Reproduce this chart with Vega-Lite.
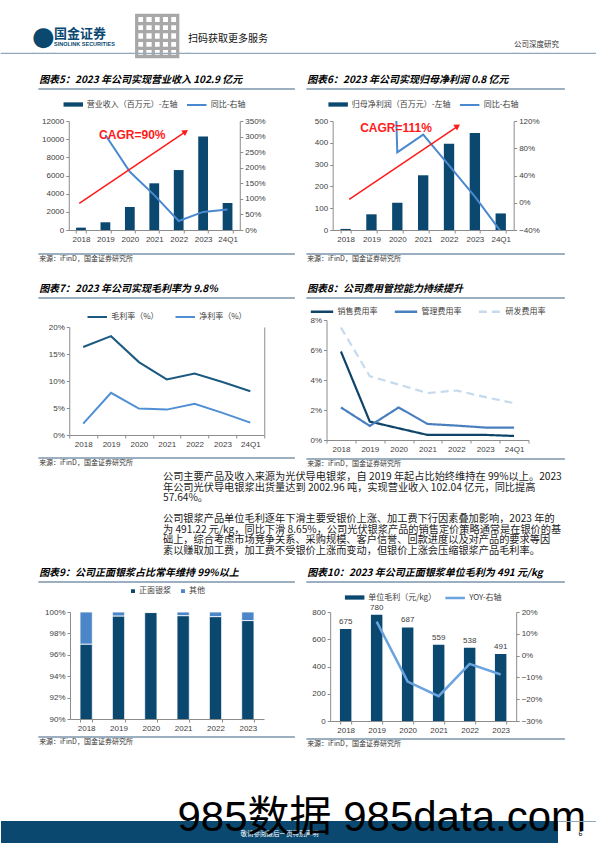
{
"$schema": "https://vega.github.io/schema/vega-lite/v6.json",
"padding": 0,
"background": "white",
"spacing": 0,
"resolve": {"scale": {"color": "independent", "strokeDash": "independent"}, "legend": {"color": "independent", "strokeDash": "independent"}},
"config": {
  "font": "Liberation Sans, Noto Sans CJK SC, sans-serif",
  "view": {"stroke": null},
  "axis": {"labelFontSize": 8, "labelColor": "#404040", "domainColor": "#8c8c8c", "tickColor": "#8c8c8c", "tickSize": 3, "grid": false, "labelPadding": 2, "labelFont": "Liberation Sans"},
  "axisX": {"labelAngle": 0, "tickBand": "extent", "labelPadding": 2},
  "legend": {"orient": "top", "direction": "horizontal", "labelFontSize": 8, "labelColor": "#404040", "labelFont": "Noto Sans CJK SC", "padding": 0, "offset": 12, "columnPadding": 12, "labelOffset": 3, "layout": {"top": {"anchor": "middle"}}},
  "title": {"font": "Noto Sans CJK SC", "fontSize": 10, "fontWeight": "bold", "fontStyle": "italic", "color": "#000000", "anchor": "start", "offset": 4}
},
"vconcat": [
  {"width": 1, "height": 4, "data": {"values": []}, "mark": "point"},
  {
    "spacing": 0, "bounds": "flush",
    "hconcat": [
      {"width": 31, "height": 0.01, "data": {"values": []}, "mark": "point", "view": {"stroke": "#8fa8bd", "strokeWidth": 1.2}},
      {"width": 22, "height": 0.01, "data": {"values": []}, "mark": "point", "view": {"stroke": "#8fa8bd", "strokeWidth": 1.2},
       "title": {"text": "●", "font": "DejaVu Sans", "fontSize": 26, "fontStyle": "normal", "fontWeight": "normal", "color": "#0a4870", "offset": 3}},
      {"width": 76, "height": 0.01, "data": {"values": []}, "mark": "point", "view": {"stroke": "#8fa8bd", "strokeWidth": 1.2},
       "title": {"text": "国金证券", "subtitle": "SINOLINK SECURITIES", "fontSize": 13, "fontStyle": "normal", "fontWeight": "bold", "color": "#0a4870", "subtitleFont": "Liberation Sans", "subtitleFontSize": 5.5, "subtitleColor": "#0a4870", "subtitleFontWeight": "bold", "subtitlePadding": 1, "offset": 6}},
      {"width": 58, "height": 0.01, "data": {"values": []}, "mark": "point", "view": {"stroke": "#8fa8bd", "strokeWidth": 1.2},
       "title": {"text": "▦", "font": "DejaVu Sans", "fontSize": 58, "fontStyle": "normal", "fontWeight": "normal", "color": "#a8a8a8", "offset": -10}},
      {"width": 326, "height": 0.01, "data": {"values": []}, "mark": "point", "view": {"stroke": "#8fa8bd", "strokeWidth": 1.2},
       "title": {"text": "扫码获取更多服务", "fontSize": 10, "fontStyle": "normal", "fontWeight": "normal", "color": "#111111", "offset": 9}},
      {"width": 83, "height": 0.01, "data": {"values": []}, "mark": "point", "view": {"stroke": "#8fa8bd", "strokeWidth": 1.2},
       "title": {"text": "公司深度研究", "fontSize": 7.5, "fontStyle": "normal", "fontWeight": "normal", "color": "#333333", "offset": 5}}
    ]
  },
  {"width": 1, "height": 10, "data": {"values": []}, "mark": "point"},
  {
    "spacing": 11,
    "resolve": {"scale": {"color": "independent", "strokeDash": "independent"}, "legend": {"color": "independent", "strokeDash": "independent"}},
    "hconcat": [
      {"width": 26, "height": 0.01, "data": {"values": []}, "mark": "point"},
      {
        "spacing": 4, "center": true,
        "resolve": {"scale": {"color": "independent"}, "legend": {"color": "independent"}},
        "vconcat": [
          {"width": 255, "height": 0.01, "data": {"values": []}, "mark": "point", "view": {"stroke": "#7a94ab", "strokeWidth": 1.5},
           "title": {"text": "图表5：2023 年公司实现营业收入 102.9 亿元"}},
          {
            "width": 171, "height": 109,
            "layer": [
              {
                "data": {"values": [
                  {"year": "2018", "rev": 260, "yoy": null},
                  {"year": "2019", "rev": 850, "yoy": 3.05},
                  {"year": "2020", "rev": 2530, "yoy": 1.87},
                  {"year": "2021", "rev": 5140, "yoy": 1.12},
                  {"year": "2022", "rev": 6600, "yoy": 0.29},
                  {"year": "2023", "rev": 10290, "yoy": 0.58},
                  {"year": "24Q1", "rev": 2970, "yoy": 0.66}
                ]},
                "layer": [
                  {"mark": {"type": "bar"},
                   "encoding": {
                     "x": {"field": "year", "type": "ordinal", "sort": null, "scale": {"paddingInner": 0.6, "paddingOuter": 0.3}, "axis": {"title": null}},
                     "y": {"field": "rev", "type": "quantitative", "scale": {"domain": [0, 12000]}, "axis": {"title": null, "values": [0, 2000, 4000, 6000, 8000, 10000, 12000], "format": "d"}},
                     "color": {"datum": "营业收入（百万元）-左轴", "scale": {"range": ["#0a4870"]}, "legend": {"title": null, "symbolType": "M-1,-0.22H1V0.22H-1Z", "symbolSize": 380}}
                   }},
                  {"mark": {"type": "line", "strokeWidth": 2},
                   "encoding": {
                     "x": {"field": "year", "type": "ordinal", "sort": null},
                     "y": {"field": "yoy", "type": "quantitative", "scale": {"domain": [0, 3.5]}, "axis": {"title": null, "orient": "right", "format": ".0%", "values": [0, 0.5, 1, 1.5, 2, 2.5, 3, 3.5]}},
                     "color": {"datum": "同比-右轴", "scale": {"range": ["#4a89cf"]}, "legend": {"title": null, "symbolType": "stroke", "symbolSize": 380, "symbolStrokeWidth": 2}}
                   }}
                ],
                "resolve": {"scale": {"y": "independent", "color": "independent"}}
              },
              {
                "layer": [
                  {"data": {"values": [{"x": 0.43, "y": 2940}, {"x": 4.74, "y": 10760}]},
                   "mark": {"type": "line", "color": "#ff1a1a", "strokeWidth": 1.5},
                   "encoding": {
                     "x": {"field": "x", "type": "quantitative", "scale": {"domain": [0, 7]}, "axis": null},
                     "y": {"field": "y", "type": "quantitative", "scale": {"domain": [0, 12000]}, "axis": null}
                   }},
                  {"data": {"values": [{"x": 4.78, "y": 10826}]},
                   "mark": {"type": "point", "shape": "triangle-up", "angle": 56, "size": 45, "filled": true, "color": "#ff1a1a", "opacity": 1},
                   "encoding": {
                     "x": {"field": "x", "type": "quantitative"},
                     "y": {"field": "y", "type": "quantitative"}
                   }},
                  {"data": {"values": [{"x": 2.6, "y": 10460, "label": "CAGR=90%"}]},
                   "mark": {"type": "text", "color": "#ff1a1a", "fontSize": 12, "fontWeight": "bold", "font": "Liberation Sans"},
                   "encoding": {
                     "x": {"field": "x", "type": "quantitative"},
                     "y": {"field": "y", "type": "quantitative"},
                     "text": {"field": "label"}
                   }}
                ]
              }
            ],
            "resolve": {"scale": {"x": "independent", "y": "independent"}}
          },
          {"width": 1, "height": 2, "data": {"values": []}, "mark": "point"},
          {"width": 255, "height": 0.01, "data": {"values": []}, "mark": "point", "view": {"stroke": "#7a94ab", "strokeWidth": 1.5},
           "title": {"text": "来源：iFinD，国金证券研究所", "orient": "bottom", "fontSize": 7, "fontWeight": "normal", "fontStyle": "normal", "color": "#333333", "offset": 1}}
        ]
      },
      {
        "spacing": 4, "center": true,
        "resolve": {"scale": {"color": "independent"}, "legend": {"color": "independent"}},
        "vconcat": [
          {"width": 257, "height": 0.01, "data": {"values": []}, "mark": "point", "view": {"stroke": "#7a94ab", "strokeWidth": 1.5},
           "title": {"text": "图表6：2023 年公司实现归母净利润 0.8 亿元"}},
          {
            "width": 181, "height": 109,
            "layer": [
              {
                "data": {"values": [
                  {"year": "2018", "np": 5, "yoy": null},
                  {"year": "2019", "np": 72, "yoy": 13.4},
                  {"year": "2020", "np": 125, "yoy": 0.74},
                  {"year": "2021", "np": 251, "yoy": 1.0},
                  {"year": "2022", "np": 396, "yoy": 0.55},
                  {"year": "2023", "np": 445, "yoy": 0.09},
                  {"year": "24Q1", "np": 76, "yoy": -0.42}
                ]},
                "layer": [
                  {"mark": {"type": "bar"},
                   "encoding": {
                     "x": {"field": "year", "type": "ordinal", "sort": null, "scale": {"paddingInner": 0.6, "paddingOuter": 0.3}, "axis": {"title": null}},
                     "y": {"field": "np", "type": "quantitative", "scale": {"domain": [0, 500]}, "axis": {"title": null, "values": [0, 100, 200, 300, 400, 500]}},
                     "color": {"datum": "归母净利润（百万元）-左轴", "scale": {"range": ["#0a4870"]}, "legend": {"title": null, "symbolType": "M-1,-0.22H1V0.22H-1Z", "symbolSize": 380}}
                   }},
                  {"mark": {"type": "line", "strokeWidth": 2, "clip": true},
                   "encoding": {
                     "x": {"field": "year", "type": "ordinal", "sort": null},
                     "y": {"field": "yoy", "type": "quantitative", "scale": {"domain": [-0.4, 1.2]}, "axis": {"title": null, "orient": "right", "format": ".0%", "values": [-0.4, 0, 0.4, 0.8, 1.2]}},
                     "color": {"datum": "同比-右轴", "scale": {"range": ["#4a89cf"]}, "legend": {"title": null, "symbolType": "stroke", "symbolSize": 380, "symbolStrokeWidth": 2}}
                   }}
                ],
                "resolve": {"scale": {"y": "independent", "color": "independent"}}
              },
              {
                "layer": [
                  {"data": {"values": [{"x": 0.64, "y": 141}, {"x": 4.79, "y": 472}]},
                   "mark": {"type": "line", "color": "#ff1a1a", "strokeWidth": 1.5},
                   "encoding": {
                     "x": {"field": "x", "type": "quantitative", "scale": {"domain": [0, 7]}, "axis": null},
                     "y": {"field": "y", "type": "quantitative", "scale": {"domain": [0, 500]}, "axis": null}
                   }},
                  {"data": {"values": [{"x": 4.83, "y": 477}]},
                   "mark": {"type": "point", "shape": "triangle-up", "angle": 56, "size": 45, "filled": true, "color": "#ff1a1a", "opacity": 1},
                   "encoding": {
                     "x": {"field": "x", "type": "quantitative"},
                     "y": {"field": "y", "type": "quantitative"}
                   }},
                  {"data": {"values": [{"x": 2.45, "y": 470, "label": "CAGR=111%"}]},
                   "mark": {"type": "text", "color": "#ff1a1a", "fontSize": 12, "fontWeight": "bold", "font": "Liberation Sans"},
                   "encoding": {
                     "x": {"field": "x", "type": "quantitative"},
                     "y": {"field": "y", "type": "quantitative"},
                     "text": {"field": "label"}
                   }}
                ]
              }
            ],
            "resolve": {"scale": {"x": "independent", "y": "independent"}}
          },
          {"width": 1, "height": 2, "data": {"values": []}, "mark": "point"},
          {"width": 257, "height": 0.01, "data": {"values": []}, "mark": "point", "view": {"stroke": "#7a94ab", "strokeWidth": 1.5},
           "title": {"text": "来源：iFinD，国金证券研究所", "orient": "bottom", "fontSize": 7, "fontWeight": "normal", "fontStyle": "normal", "color": "#333333", "offset": 1}}
        ]
      }
    ]
  },
  {"width": 1, "height": 20, "data": {"values": []}, "mark": "point"},
  {
    "spacing": 11,
    "resolve": {"scale": {"color": "independent", "strokeDash": "independent"}, "legend": {"color": "independent", "strokeDash": "independent"}},
    "hconcat": [
      {"width": 26, "height": 0.01, "data": {"values": []}, "mark": "point"},
      {
        "spacing": 3, "center": true,
        "resolve": {"scale": {"color": "independent"}, "legend": {"color": "independent"}},
        "vconcat": [
          {"width": 255, "height": 0.01, "data": {"values": []}, "mark": "point", "view": {"stroke": "#7a94ab", "strokeWidth": 1.5},
           "title": {"text": "图表7：2023 年公司实现毛利率为 9.8%"}},
          {"width": 1, "height": 0.01, "data": {"values": []}, "mark": "point"},
          {
            "width": 195, "height": 108,
            "data": {"values": [
              {"year": "2018", "series": "毛利率（%）", "v": 0.163},
              {"year": "2019", "series": "毛利率（%）", "v": 0.183},
              {"year": "2020", "series": "毛利率（%）", "v": 0.135},
              {"year": "2021", "series": "毛利率（%）", "v": 0.103},
              {"year": "2022", "series": "毛利率（%）", "v": 0.114},
              {"year": "2023", "series": "毛利率（%）", "v": 0.098},
              {"year": "24Q1", "series": "毛利率（%）", "v": 0.081},
              {"year": "2018", "series": "净利率（%）", "v": 0.021},
              {"year": "2019", "series": "净利率（%）", "v": 0.078},
              {"year": "2020", "series": "净利率（%）", "v": 0.049},
              {"year": "2021", "series": "净利率（%）", "v": 0.047},
              {"year": "2022", "series": "净利率（%）", "v": 0.058},
              {"year": "2023", "series": "净利率（%）", "v": 0.041},
              {"year": "24Q1", "series": "净利率（%）", "v": 0.023}
            ]},
            "layer": [
              {"mark": {"type": "line", "strokeWidth": 2},
               "encoding": {
                 "x": {"field": "year", "type": "ordinal", "sort": null, "scale": {"type": "band", "paddingInner": 0, "paddingOuter": 0}, "axis": {"title": null}},
                 "y": {"field": "v", "type": "quantitative", "scale": {"domain": [0, 0.2]}, "axis": {"title": null, "format": ".0%", "values": [0, 0.05, 0.1, 0.15, 0.2]}},
                 "color": {"field": "series", "type": "nominal", "scale": {"domain": ["毛利率（%）", "净利率（%）"], "range": ["#1b5a80", "#4f8fd3"]}, "legend": {"title": null, "symbolType": "stroke", "symbolSize": 380, "symbolStrokeWidth": 2, "offset": 6}}
               }},
              {"mark": {"type": "line", "opacity": 0},
               "encoding": {
                 "x": {"field": "year", "type": "ordinal", "sort": null},
                 "y": {"field": "v", "type": "quantitative", "scale": {"domain": [0, 0.2]}, "axis": {"title": null, "orient": "right", "labels": false, "ticks": false}}
               }}
            ],
            "resolve": {"scale": {"y": "independent"}}
          },
          {"width": 1, "height": 3, "data": {"values": []}, "mark": "point"},
          {"width": 255, "height": 0.01, "data": {"values": []}, "mark": "point", "view": {"stroke": "#7a94ab", "strokeWidth": 1.5},
           "title": {"text": "来源：iFinD，国金证券研究所", "orient": "bottom", "fontSize": 7, "fontWeight": "normal", "fontStyle": "normal", "color": "#333333", "offset": 1}}
        ]
      },
      {
        "spacing": 0, "center": true,
        "resolve": {"scale": {"color": "independent", "strokeDash": "independent"}, "legend": {"color": "independent", "strokeDash": "independent"}},
        "vconcat": [
          {"width": 257, "height": 0.01, "data": {"values": []}, "mark": "point", "view": {"stroke": "#7a94ab", "strokeWidth": 1.5},
           "title": {"text": "图表8：公司费用管控能力持续提升"}},
          {
            "width": 202, "height": 120,
            "data": {"values": [
              {"year": "2018", "series": "销售费用率", "v": 0.059},
              {"year": "2019", "series": "销售费用率", "v": 0.0123},
              {"year": "2020", "series": "销售费用率", "v": 0.0078},
              {"year": "2021", "series": "销售费用率", "v": 0.0034},
              {"year": "2022", "series": "销售费用率", "v": 0.0034},
              {"year": "2023", "series": "销售费用率", "v": 0.0034},
              {"year": "24Q1", "series": "销售费用率", "v": 0.0027},
              {"year": "2018", "series": "管理费用率", "v": 0.0217},
              {"year": "2019", "series": "管理费用率", "v": 0.0094},
              {"year": "2020", "series": "管理费用率", "v": 0.0217},
              {"year": "2021", "series": "管理费用率", "v": 0.0107},
              {"year": "2022", "series": "管理费用率", "v": 0.0096},
              {"year": "2023", "series": "管理费用率", "v": 0.0083},
              {"year": "24Q1", "series": "管理费用率", "v": 0.0083},
              {"year": "2018", "series": "研发费用率", "v": 0.075},
              {"year": "2019", "series": "研发费用率", "v": 0.0425},
              {"year": "2020", "series": "研发费用率", "v": 0.037},
              {"year": "2021", "series": "研发费用率", "v": 0.0313},
              {"year": "2022", "series": "研发费用率", "v": 0.033},
              {"year": "2023", "series": "研发费用率", "v": 0.0286},
              {"year": "24Q1", "series": "研发费用率", "v": 0.0246}
            ]},
            "mark": {"type": "line", "strokeWidth": 2.2},
            "encoding": {
              "x": {"field": "year", "type": "ordinal", "sort": null, "scale": {"type": "band", "paddingInner": 0, "paddingOuter": 0}, "axis": {"title": null}},
              "y": {"field": "v", "type": "quantitative", "scale": {"domain": [0, 0.08]}, "axis": {"title": null, "format": ".0%", "values": [0, 0.02, 0.04, 0.06, 0.08]}},
              "color": {"field": "series", "type": "nominal", "scale": {"domain": ["销售费用率", "管理费用率", "研发费用率"], "range": ["#0d4468", "#4a7fbf", "#c6daee"]}, "legend": {"title": null, "symbolType": "stroke", "symbolSize": 500, "symbolStrokeWidth": 2.5, "offset": 3}},
              "strokeDash": {"field": "series", "type": "nominal", "scale": {"domain": ["销售费用率", "管理费用率", "研发费用率"], "range": [[1, 0], [1, 0], [8, 5]]}, "legend": {"title": null, "symbolType": "stroke", "symbolSize": 500, "symbolStrokeWidth": 2.5, "offset": 3}}
            }
          },
          {"width": 1, "height": 5, "data": {"values": []}, "mark": "point"},
          {"width": 257, "height": 0.01, "data": {"values": []}, "mark": "point", "view": {"stroke": "#7a94ab", "strokeWidth": 1.5},
           "title": {"text": "来源：iFinD，国金证券研究所", "orient": "bottom", "fontSize": 7, "fontWeight": "normal", "fontStyle": "normal", "color": "#333333", "offset": 1}}
        ]
      }
    ]
  },
  {"width": 1, "height": 4, "data": {"values": []}, "mark": "point"},
  {
    "spacing": 0,
    "hconcat": [
      {"width": 162, "height": 0.01, "data": {"values": []}, "mark": "point"},
      {"width": 404, "height": 0.01, "data": {"values": []}, "mark": "point",
       "title": {"text": [
         "公司主要产品及收入来源为光伏导电银浆，自 2019 年起占比始终维持在 99%以上。2023",
         "年公司光伏导电银浆出货量达到 2002.96 吨，实现营业收入 102.04 亿元，同比提高",
         "57.64%。",
         "\u200b",
         "公司银浆产品单位毛利逐年下滑主要受银价上涨、加工费下行因素叠加影响，2023 年的",
         "为 491.22 元/kg，同比下滑 8.65%，公司光伏银浆产品的销售定价策略通常是在银价的基",
         "础上，综合考虑市场竞争关系、采购规模、客户信誉、回款进度以及对产品的要求等因",
         "素以赚取加工费，加工费不受银价上涨而变动，但银价上涨会压缩银浆产品毛利率。"
       ], "fontSize": 10.2, "lineHeight": 10.5, "fontWeight": "normal", "fontStyle": "normal", "color": "#1a1a1a", "offset": 0}}
    ]
  },
  {"width": 1, "height": 10, "data": {"values": []}, "mark": "point"},
  {
    "spacing": 11,
    "resolve": {"scale": {"color": "independent", "strokeDash": "independent"}, "legend": {"color": "independent", "strokeDash": "independent"}},
    "hconcat": [
      {"width": 26, "height": 0.01, "data": {"values": []}, "mark": "point"},
      {
        "spacing": 4, "center": true,
        "resolve": {"scale": {"color": "independent"}, "legend": {"color": "independent"}},
        "vconcat": [
          {"width": 255, "height": 0.01, "data": {"values": []}, "mark": "point", "view": {"stroke": "#7a94ab", "strokeWidth": 1.5},
           "title": {"text": "图表9：公司正面银浆占比常年维持 99%以上"}},
          {
            "width": 194, "height": 107,
            "data": {"values": [
              {"year": "2018", "type": "正面银浆", "share": 0.970},
              {"year": "2018", "type": "其他", "share": 0.030},
              {"year": "2019", "type": "正面银浆", "share": 0.9963},
              {"year": "2019", "type": "其他", "share": 0.0037},
              {"year": "2020", "type": "正面银浆", "share": 0.9995},
              {"year": "2020", "type": "其他", "share": 0.0005},
              {"year": "2021", "type": "正面银浆", "share": 0.9966},
              {"year": "2021", "type": "其他", "share": 0.0034},
              {"year": "2022", "type": "正面银浆", "share": 0.9957},
              {"year": "2022", "type": "其他", "share": 0.0043},
              {"year": "2023", "type": "正面银浆", "share": 0.9920},
              {"year": "2023", "type": "其他", "share": 0.0080}
            ]},
            "mark": {"type": "bar", "clip": true, "stroke": "white", "strokeWidth": 0.8},
            "encoding": {
              "x": {"field": "year", "type": "ordinal", "sort": null, "scale": {"paddingInner": 0.62, "paddingOuter": 0.31}, "axis": {"title": null}},
              "y": {"field": "share", "type": "quantitative", "stack": true, "scale": {"domain": [0.9, 1]}, "axis": {"title": null, "format": ".0%", "values": [0.9, 0.92, 0.94, 0.96, 0.98, 1]}},
              "color": {"field": "type", "type": "nominal", "scale": {"domain": ["正面银浆", "其他"], "range": ["#0a4870", "#4a86c8"]}, "legend": {"title": null, "symbolType": "square", "symbolSize": 30, "columnPadding": 6, "labelOffset": 2, "offset": 15}},
              "order": {"field": "type", "sort": "descending"}
            }
          },
          {"width": 255, "height": 0.01, "data": {"values": []}, "mark": "point", "view": {"stroke": "#7a94ab", "strokeWidth": 1.5},
           "title": {"text": "来源：iFinD，国金证券研究所", "orient": "bottom", "fontSize": 7, "fontWeight": "normal", "fontStyle": "normal", "color": "#333333", "offset": 1}}
        ]
      },
      {
        "spacing": 4, "center": true,
        "resolve": {"scale": {"color": "independent"}, "legend": {"color": "independent"}},
        "vconcat": [
          {"width": 257, "height": 0.01, "data": {"values": []}, "mark": "point", "view": {"stroke": "#7a94ab", "strokeWidth": 1.5},
           "title": {"text": "图表10：2023 年公司正面银浆单位毛利为 491 元/kg"}},
          {
            "width": 186, "height": 109,
            "data": {"values": [
              {"year": "2018", "gp": 675, "yoy": null},
              {"year": "2019", "gp": 780, "yoy": 0.156},
              {"year": "2020", "gp": 687, "yoy": -0.119},
              {"year": "2021", "gp": 559, "yoy": -0.186},
              {"year": "2022", "gp": 538, "yoy": -0.038},
              {"year": "2023", "gp": 491, "yoy": -0.0865}
            ]},
            "layer": [
              {"mark": {"type": "bar"},
               "encoding": {
                 "x": {"field": "year", "type": "ordinal", "sort": null, "scale": {"paddingInner": 0.63, "paddingOuter": 0.315}, "axis": {"title": null}},
                 "y": {"field": "gp", "type": "quantitative", "scale": {"domain": [0, 800]}, "axis": {"title": null, "values": [0, 200, 400, 600, 800]}},
                 "color": {"datum": "单位毛利（元/kg）", "scale": {"range": ["#0a4870"]}, "legend": {"title": null, "symbolType": "M-1,-0.22H1V0.22H-1Z", "symbolSize": 380, "offset": 9}}
               }},
              {"mark": {"type": "text", "baseline": "bottom", "dy": -3, "fontSize": 8, "color": "#404040", "font": "Liberation Sans"},
               "encoding": {
                 "x": {"field": "year", "type": "ordinal", "sort": null},
                 "y": {"field": "gp", "type": "quantitative", "scale": {"domain": [0, 800]}, "axis": null},
                 "text": {"field": "gp", "type": "quantitative"}
               }},
              {"mark": {"type": "line", "strokeWidth": 2.5},
               "encoding": {
                 "x": {"field": "year", "type": "ordinal", "sort": null},
                 "y": {"field": "yoy", "type": "quantitative", "scale": {"domain": [-0.3, 0.2]}, "axis": {"title": null, "orient": "right", "format": ".0%", "values": [-0.3, -0.2, -0.1, 0, 0.1, 0.2]}},
                 "color": {"datum": "YOY-右轴", "scale": {"range": ["#6aa3df"]}, "legend": {"title": null, "symbolType": "stroke", "symbolSize": 380, "symbolStrokeWidth": 2.5, "offset": 9}}
               }}
            ],
            "resolve": {"scale": {"y": "independent", "color": "independent"}}
          },
          {"width": 257, "height": 0.01, "data": {"values": []}, "mark": "point", "view": {"stroke": "#7a94ab", "strokeWidth": 1.5},
           "title": {"text": "来源：iFinD，国金证券研究所", "orient": "bottom", "fontSize": 7, "fontWeight": "normal", "fontStyle": "normal", "color": "#333333", "offset": 1}}
        ]
      }
    ]
  },
  {"width": 1, "height": 49, "data": {"values": []}, "mark": "point"},
  {
    "spacing": 0, "bounds": "flush",
    "hconcat": [
      {"width": 557, "height": 25, "view": {"fill": "#0a4870", "stroke": null},
       "data": {"values": [{"t": "敬请参阅最后一页特别声明"}]},
       "mark": {"type": "text", "color": "white", "fontSize": 6.5, "font": "Noto Sans CJK SC"},
       "encoding": {"text": {"field": "t"}},
       "title": {"text": "985数据 985data.com", "anchor": "end", "offset": -19, "dx": 28, "fontSize": 42, "font": "Liberation Sans, Noto Sans CJK SC", "fontWeight": "normal", "fontStyle": "normal", "color": "#000000"}},
      {"width": 39, "height": 0.01, "data": {"values": []}, "mark": "point", "view": {"stroke": "#8fa8bd", "strokeWidth": 1},
       "title": {"text": "6", "orient": "bottom", "anchor": "middle", "offset": 9, "dx": 3, "fontSize": 7, "fontWeight": "normal", "fontStyle": "normal", "color": "#000000"}}
    ]
  }
]
}
